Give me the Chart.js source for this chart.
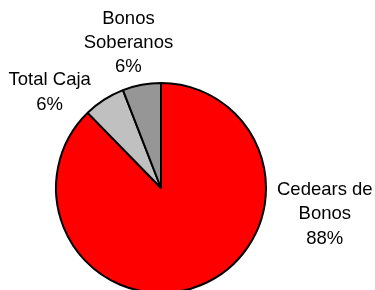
<!DOCTYPE html>
<html>
<head>
<meta charset="utf-8">
<script src="https://cdn.jsdelivr.net/npm/chart.js@4/dist/chart.umd.min.js"></script>
<style>
  html, body { margin: 0; padding: 0; background: #fff; overflow: hidden; }
  #wrap { width: 375px; height: 300px; }
</style>
</head>
<body>
<div id="wrap"><canvas id="grafico" width="375" height="300"></canvas></div>
<script>
// datos
const categorias = ["Cedears de Bonos", "Total Caja", "Bonos Soberanos"];
const valores = [87.7, 6.4, 5.9];
const etiquetas = [["Cedears de", "Bonos", "88%"], ["Total Caja", "6%"], ["Bonos", "Soberanos", "6%"]];
const colores = ["#ff0000", "#c0c0c0", "#969696"];

// donde va cada etiqueta, en radios desde el centro
const posEtiquetas = [[1.56, 0.25], [-1.06, -0.91], [-0.31, -1.38]];

const etiquetasPlugin = {
    id: "etiquetasTorta",
    afterDatasetsDraw(chart) {
        const ctx = chart.ctx;
        const meta = chart.getDatasetMeta(0);
        ctx.save();
        ctx.font = "18.5px 'Liberation Sans', Arial, sans-serif";
        ctx.fillStyle = "#000";
        ctx.textAlign = "center";
        ctx.textBaseline = "middle";
        const alto = 24.3;
        meta.data.forEach((arco, i) => {
            const r = arco.outerRadius;
            const cx = arco.x + posEtiquetas[i][0] * r;
            const cy = arco.y + posEtiquetas[i][1] * r;
            const lineas = etiquetas[i];
            const y0 = cy - (lineas.length - 1) * alto / 2;
            lineas.forEach((t, k) => ctx.fillText(t, cx, y0 + k * alto));
        });
        ctx.restore();
    }
};

new Chart(document.getElementById("grafico"), {
    type: "pie",
    data: {
        labels: categorias,
        datasets: [{
            data: valores,
            backgroundColor: colores,
            borderColor: "#000",
            borderWidth: 2
        }]
    },
    options: {
        responsive: false,
        animation: false,
        layout: { padding: { top: 82, bottom: 6, left: 55, right: 108 } },
        plugins: {
            legend: { display: false },
            tooltip: { enabled: false }
        }
    },
    plugins: [etiquetasPlugin]
});
</script>
</body>
</html>
